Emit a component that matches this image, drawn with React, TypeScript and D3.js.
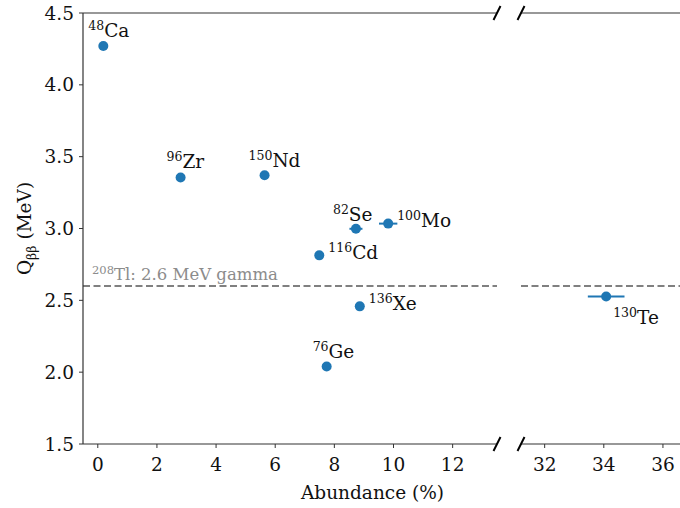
import React from "react";
import * as d3 from "d3";

const isotopes = ["Ca", "Zr", "Nd", "Se", "Mo", "Cd", "Xe", "Ge", "Te"];
const massNumbers = ["48", "96", "150", "82", "100", "116", "136", "76", "130"];
const abundance = [0.187, 2.8, 5.64, 8.73, 9.82, 7.49, 8.86, 7.74, 34.08];
const abundanceErr = [0, 0, 0, 0.22, 0.31, 0, 0, 0, 0.62];
const qValue = [4.27, 3.355, 3.371, 2.998, 3.034, 2.813, 2.458, 2.039, 2.527];
const leftTicks = [0, 2, 4, 6, 8, 10, 12];
const rightTicks = [32, 34, 36];
const yTicks = [1.5, 2.0, 2.5, 3.0, 3.5, 4.0, 4.5];
const tlEnergy = 2.6;

// label placement (pixels relative to point): [dx, dy]
const labelOffsets: Record<string, [number, number]> = {
  Ca: [-15, -9],
  Zr: [-14, -9],
  Nd: [-16, -8],
  Se: [-23, -8],
  Mo: [9, 3],
  Cd: [9, 4],
  Xe: [9, 4],
  Ge: [-14, -9],
  Te: [7, 28],
};

const W = 680;
const H = 508;
const top = 13;
const bottom = 444;
const leftX0 = 83;
const leftX1 = 497;
const rightX0 = 521;
const pxPerUnit = (leftX1 - leftX0) / 14;

const FONT = "DejaVu Serif";
const BLUE = "#1f77b4";
const SPINE = "#333";
const FS = 18.5;
const tStyle = { fontFamily: FONT };

export default function App() {
  const y = d3.scaleLinear().domain([1.5, 4.5]).range([bottom, top]);
  const xl = d3.scaleLinear().domain([-0.5, 13.5]).range([leftX0, leftX1]);
  const rDomain0 = 31.2;
  const rDomain1 = 37.5;
  const xr = d3
    .scaleLinear()
    .domain([rDomain0, rDomain1])
    .range([rightX0, rightX0 + (rDomain1 - rDomain0) * pxPerUnit]);

  const xOf = (v: number) => (v > 20 ? xr(v) : xl(v));
  const breakMark = (cx: number, cy: number, key: string) => (
    <line key={key} x1={cx - 3.5} y1={cy + 7} x2={cx + 3.5} y2={cy - 7} stroke="#000" strokeWidth={2} />
  );
  const rightEnd = W + 5;

  return (
    <svg width={W} height={H} style={{ position: "absolute", left: 0, top: 0, background: "#fff" }}>
      <rect x={0} y={0} width={W} height={H} fill="#fff" />
      {/* dashed Tl line */}
      <line x1={leftX0} x2={leftX1} y1={y(tlEnergy)} y2={y(tlEnergy)} stroke="#808080" strokeWidth={2} strokeDasharray="7,3.5" />
      <line x1={rightX0} x2={rightEnd} y1={y(tlEnergy)} y2={y(tlEnergy)} stroke="#808080" strokeWidth={2} strokeDasharray="7,3.5" />
      <text x={92} y={y(tlEnergy) - 6} fill="#8c8c8c" fontSize={16.5} style={tStyle}>
        <tspan fontSize={11.5} dy={-6}>208</tspan>
        <tspan dy={6}>Tl: 2.6 MeV gamma</tspan>
      </text>

      {/* spines */}
      <line x1={leftX0} x2={leftX0} y1={top} y2={bottom} stroke={SPINE} strokeWidth={1.2} />
      <line x1={leftX0} x2={leftX1} y1={top} y2={top} stroke={SPINE} strokeWidth={1.2} />
      <line x1={leftX0} x2={leftX1} y1={bottom} y2={bottom} stroke={SPINE} strokeWidth={1.2} />
      <line x1={rightX0} x2={rightEnd} y1={top} y2={top} stroke={SPINE} strokeWidth={1.2} />
      <line x1={rightX0} x2={rightEnd} y1={bottom} y2={bottom} stroke={SPINE} strokeWidth={1.2} />
      {breakMark(leftX1, top, "b1")}
      {breakMark(rightX0, top, "b2")}
      {breakMark(leftX1, bottom, "b3")}
      {breakMark(rightX0, bottom, "b4")}

      {/* y ticks */}
      {yTicks.map((t) => (
        <g key={"y" + t}>
          <line x1={leftX0 - 4} x2={leftX0} y1={y(t)} y2={y(t)} stroke={SPINE} strokeWidth={1} />
          <text x={leftX0 - 9} y={y(t)} dy="0.36em" textAnchor="end" fontSize={FS} fill="#111" style={tStyle}>
            {d3.format(".1f")(t)}
          </text>
        </g>
      ))}
      {/* x ticks */}
      {leftTicks.map((t) => (
        <g key={"xl" + t}>
          <line x1={xl(t)} x2={xl(t)} y1={bottom} y2={bottom + 4} stroke={SPINE} strokeWidth={1} />
          <text x={xl(t)} y={471} textAnchor="middle" fontSize={FS} fill="#111" style={tStyle}>
            {t}
          </text>
        </g>
      ))}
      {rightTicks.map((t) => (
        <g key={"xr" + t}>
          <line x1={xr(t)} x2={xr(t)} y1={bottom} y2={bottom + 4} stroke={SPINE} strokeWidth={1} />
          <text x={xr(t)} y={471} textAnchor="middle" fontSize={FS} fill="#111" style={tStyle}>
            {t}
          </text>
        </g>
      ))}

      {/* axis labels */}
      <text x={372.5} y={499} textAnchor="middle" fontSize={FS} fill="#111" style={tStyle}>
        Abundance (%)
      </text>
      <text transform={`translate(31,${(top + bottom) / 2}) rotate(-90)`} textAnchor="middle" fontSize={FS} fill="#111" style={tStyle}>
        <tspan>Q</tspan>
        <tspan fontSize={12.5} dy={5}>ββ</tspan>
        <tspan dy={-5}> (MeV)</tspan>
      </text>

      {/* error bars and points */}
      {isotopes.map((iso, i) => {
        const cx = xOf(abundance[i]);
        const cy = y(qValue[i]);
        const e = abundanceErr[i];
        const [dx, dy] = labelOffsets[iso];
        return (
          <g key={iso}>
            {e > 0 && (
              <line x1={xOf(abundance[i] - e)} x2={xOf(abundance[i] + e)} y1={cy} y2={cy} stroke={BLUE} strokeWidth={2} />
            )}
            <circle cx={cx} cy={cy} r={5} fill={BLUE} />
            <text x={cx + dx} y={cy + dy} fontSize={FS} fill="#111" style={tStyle}>
              <tspan fontSize={12.5} dy={-7}>{massNumbers[i]}</tspan>
              <tspan dy={7}>{iso}</tspan>
            </text>
          </g>
        );
      })}
    </svg>
  );
}
